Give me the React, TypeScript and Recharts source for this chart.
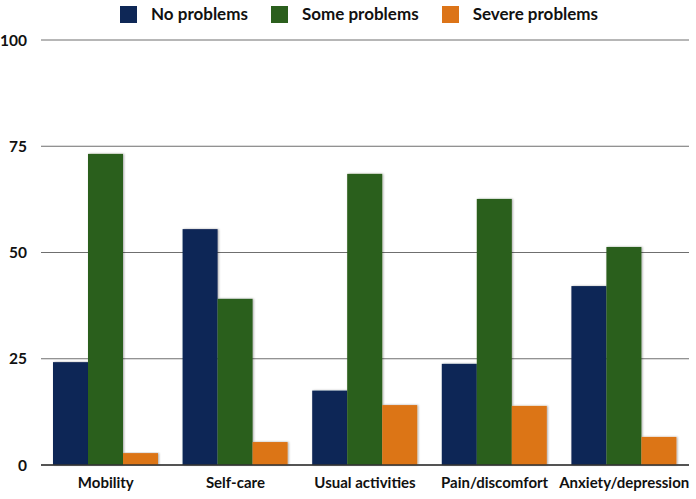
import { Bar, BarChart, CartesianGrid, XAxis, YAxis } from 'recharts';

const categories = ['Mobility', 'Self-care', 'Usual activities', 'Pain/discomfort', 'Anxiety/depression'];
const noProblems = [24.2, 55.5, 17.5, 23.8, 42.1];
const someProblems = [73.2, 39.1, 68.5, 62.6, 51.3];
const severeProblems = [2.8, 5.4, 14.1, 13.9, 6.6];
const yTicks = [0, 25, 50, 75, 100];

const series = [
  { key: 'none', name: 'No problems', color: '#0e2756' },
  { key: 'some', name: 'Some problems', color: '#2b5f1d' },
  { key: 'severe', name: 'Severe problems', color: '#dc7418' },
];

const data = categories.map((name, i) => ({
  name,
  none: noProblems[i],
  some: someProblems[i],
  severe: severeProblems[i],
}));

const FONT = 'Lato, "DejaVu Sans", sans-serif';

const ShadowBar = (props: any) => {
  const { x, y, width, height, fill } = props;
  if (!height || height <= 0) return null;
  return <rect x={x} y={y} width={width} height={height} fill={fill} filter="url(#barShadow)" />;
};

export default function App() {
  return (
    <div style={{ position: 'absolute', left: 0, top: 0, width: 696, height: 499, background: '#fff' }}>
      <div
        style={{
          position: 'absolute',
          top: 4,
          left: 120,
          display: 'flex',
          gap: 23,
          fontFamily: FONT,
          fontSize: 17,
          fontWeight: 700,
          color: '#111',
          lineHeight: '20px',
        }}
      >
        {series.map((s) => (
          <span key={s.key} style={{ display: 'flex', alignItems: 'center' }}>
            <span style={{ width: 17, height: 17, background: s.color, display: 'inline-block', marginRight: 14 }} />
            {s.name}
          </span>
        ))}
      </div>
      <BarChart
        width={696}
        height={499}
        data={data}
        margin={{ top: 40, right: 7, left: 0, bottom: 4 }}
        barGap={0}
        barSize={35}
      >
        <defs>
          <filter id="barShadow" x="-20%" y="-5%" width="140%" height="110%">
            <feDropShadow dx="1" dy="0" stdDeviation="1" floodColor="#000" floodOpacity="0.35" />
          </filter>
        </defs>
        <CartesianGrid vertical={false} stroke="#6f6f6f" strokeWidth={1} />
        <XAxis
          dataKey="name"
          height={30}
          tickLine={false}
          axisLine={{ stroke: '#333', strokeWidth: 1.5 }}
          tick={{ fill: '#111', fontSize: 15, fontFamily: FONT, fontWeight: 700 }}
          tickMargin={6}
          interval={0}
        />
        <YAxis
          width={41}
          domain={[0, 100]}
          ticks={yTicks}
          tickLine={false}
          axisLine={false}
          tickSize={0}
          tickMargin={14}
          tick={{ fill: '#111', fontSize: 15.5, fontFamily: FONT, fontWeight: 700 }}
        />
        {series.map((s) => (
          <Bar key={s.key} dataKey={s.key} name={s.name} fill={s.color} shape={ShadowBar} isAnimationActive={false} />
        ))}
      </BarChart>
    </div>
  );
}
